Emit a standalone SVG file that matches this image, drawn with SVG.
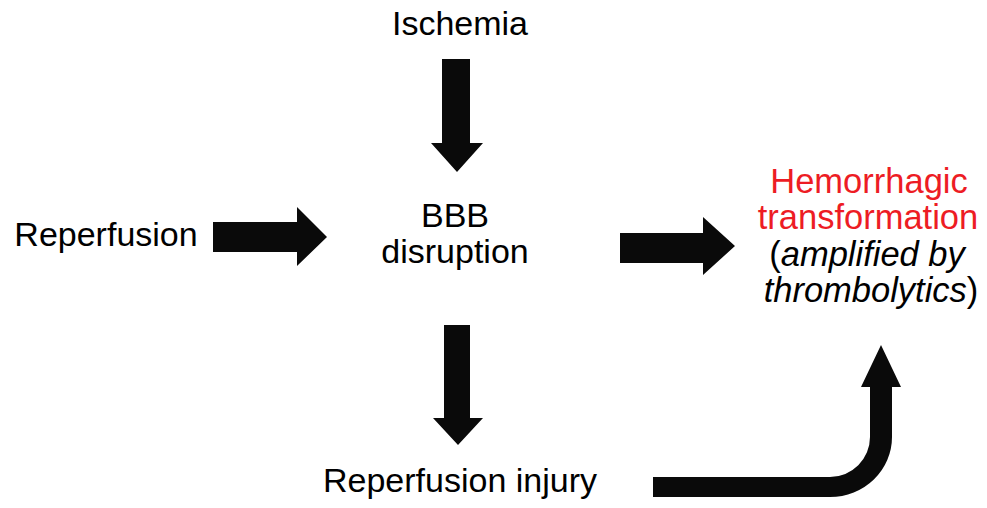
<svg xmlns="http://www.w3.org/2000/svg" width="987" height="508" viewBox="0 0 987 508">
<style>
text{font-family:"Liberation Sans",Arial,sans-serif;font-size:34px;fill:#000;}
.r{font-size:34.5px;}
.red{fill:#ed1c24;}
.it{font-style:italic;}
.arr{fill:#0a0a0a;}
</style>
<rect width="987" height="508" fill="#fff"/>
<g id="ischemia"><text x="460" y="35" text-anchor="middle">Ischemia</text></g>
<g id="reperfusion"><text x="106" y="246" text-anchor="middle">Reperfusion</text></g>
<g id="bbb"><text x="455" y="227" text-anchor="middle">BBB</text><text x="455" y="263" text-anchor="middle">disruption</text></g>
<g id="injury"><text x="460" y="492" text-anchor="middle">Reperfusion injury</text></g>
<g id="hemorrhagic">
<text class="r red" x="869" y="193" text-anchor="middle">Hemorrhagic</text>
<text class="r red" x="868" y="229" text-anchor="middle">transformation</text>
<text class="r" x="867" y="266" text-anchor="middle">(<tspan class="it">amplified by</tspan></text>
<text class="r" x="871" y="302" text-anchor="middle"><tspan class="it">thrombolytics</tspan>)</text>
</g>
<g id="connectors">
<polygon class="arr" points="442,59 470,59 470,143 483,143 457,172 431,143 442,143"/>
<polygon class="arr" points="213,222 297,222 297,207 327,237 297,266 297,252 213,252"/>
<polygon class="arr" points="620,233 703,233 703,217 735,246 703,275 703,263 620,263"/>
<polygon class="arr" points="444,325 470,325 470,418 483,418 458,445 433,418 444,418"/>
<path class="arr" d="M653,477 L830,477 A40,40 0 0 0 870,437 L870,387 L861,387 L881,345 L901,387 L892,387 L892,437 A62,60 0 0 1 830,497 L653,497 Z"/>
</g>
</svg>
